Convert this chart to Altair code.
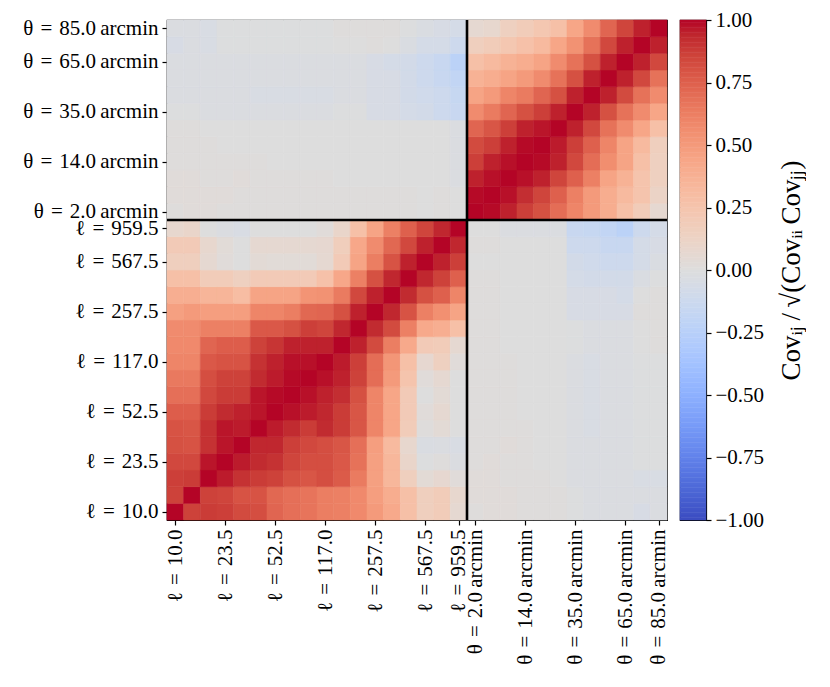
import json
import altair as alt
import pandas as pd

# ---------------- data ----------------
ell_tick_idx = [0, 3, 6, 9, 12, 15, 17]
ell_tick_lab = ["10.0", "23.5", "52.5", "117.0", "257.5", "567.5", "959.5"]
theta_tick_idx = [0, 3, 6, 9, 11]
theta_tick_lab = ["2.0", "14.0", "35.0", "65.0", "85.0"]
n_ell = 18
n_theta = 12

# ell-ell block, rows = ell_y index (bottom to top), cols = ell_x index
ll_rows = [
    [1.00, 0.86, 0.88, 0.87, 0.83, 0.82, 0.73, 0.69, 0.67, 0.63, 0.62, 0.58, 0.50, 0.42, 0.28, 0.16, 0.19, 0.06],
    [0.86, 1.00, 0.86, 0.85, 0.80, 0.80, 0.72, 0.69, 0.67, 0.63, 0.62, 0.58, 0.48, 0.40, 0.28, 0.16, 0.19, 0.08],
    [0.87, 0.88, 1.00, 0.96, 0.91, 0.88, 0.86, 0.81, 0.79, 0.82, 0.77, 0.64, 0.47, 0.34, 0.16, 0.04, 0.07, 0.02],
    [0.84, 0.84, 0.97, 1.00, 0.96, 0.93, 0.91, 0.85, 0.82, 0.82, 0.78, 0.68, 0.47, 0.34, 0.10, -0.01, 0.01, -0.02],
    [0.81, 0.80, 0.91, 0.97, 1.00, 0.94, 0.94, 0.87, 0.84, 0.82, 0.79, 0.69, 0.48, 0.32, 0.08, -0.03, -0.02, -0.04],
    [0.80, 0.79, 0.91, 0.97, 0.96, 1.00, 0.96, 0.93, 0.88, 0.93, 0.88, 0.79, 0.60, 0.44, 0.19, 0.01, 0.04, 0.00],
    [0.76, 0.76, 0.88, 0.93, 0.95, 0.97, 1.00, 0.98, 0.96, 0.94, 0.88, 0.79, 0.60, 0.44, 0.20, 0.02, 0.06, 0.00],
    [0.69, 0.69, 0.84, 0.88, 0.88, 0.97, 0.99, 1.00, 0.98, 0.95, 0.92, 0.81, 0.60, 0.44, 0.20, 0.00, 0.04, 0.00],
    [0.65, 0.65, 0.82, 0.86, 0.86, 0.93, 0.96, 0.99, 1.00, 0.98, 0.95, 0.86, 0.70, 0.50, 0.25, 0.02, 0.06, 0.00],
    [0.60, 0.60, 0.78, 0.80, 0.80, 0.91, 0.95, 0.98, 0.98, 1.00, 0.96, 0.87, 0.70, 0.52, 0.28, 0.07, 0.15, 0.02],
    [0.58, 0.58, 0.73, 0.76, 0.76, 0.86, 0.90, 0.95, 0.95, 0.95, 1.00, 0.95, 0.83, 0.63, 0.42, 0.20, 0.19, 0.06],
    [0.57, 0.57, 0.62, 0.62, 0.62, 0.78, 0.78, 0.81, 0.87, 0.85, 0.94, 1.00, 0.93, 0.83, 0.62, 0.42, 0.39, 0.28],
    [0.47, 0.50, 0.48, 0.48, 0.48, 0.60, 0.60, 0.63, 0.72, 0.73, 0.81, 0.95, 1.00, 0.94, 0.80, 0.62, 0.55, 0.45],
    [0.39, 0.39, 0.35, 0.35, 0.30, 0.45, 0.45, 0.45, 0.53, 0.54, 0.64, 0.84, 0.95, 1.00, 0.93, 0.81, 0.75, 0.60],
    [0.28, 0.28, 0.19, 0.19, 0.15, 0.20, 0.20, 0.20, 0.20, 0.27, 0.43, 0.62, 0.81, 0.94, 1.00, 0.94, 0.86, 0.75],
    [0.16, 0.16, 0.06, 0.02, 0.00, 0.04, 0.03, 0.03, 0.03, 0.06, 0.20, 0.45, 0.63, 0.80, 0.95, 1.00, 0.95, 0.87],
    [0.20, 0.20, 0.08, 0.03, 0.00, 0.06, 0.06, 0.06, 0.06, 0.07, 0.17, 0.43, 0.57, 0.72, 0.84, 0.95, 1.00, 0.94],
    [0.08, 0.10, 0.00, -0.02, -0.04, 0.00, 0.00, 0.00, 0.00, 0.02, 0.10, 0.28, 0.45, 0.62, 0.75, 0.85, 0.94, 1.00],
]

# theta-theta block, rows = theta_y index (bottom to top)
tt_rows = [
    [1.00, 0.99, 0.95, 0.87, 0.81, 0.70, 0.60, 0.50, 0.40, 0.28, 0.19, 0.06],
    [0.99, 1.00, 0.98, 0.92, 0.85, 0.75, 0.62, 0.50, 0.40, 0.32, 0.25, 0.12],
    [0.95, 0.98, 1.00, 0.98, 0.95, 0.85, 0.75, 0.62, 0.45, 0.37, 0.25, 0.15],
    [0.87, 0.95, 0.98, 1.00, 0.99, 0.95, 0.84, 0.70, 0.56, 0.45, 0.28, 0.15],
    [0.83, 0.87, 0.95, 0.99, 1.00, 0.96, 0.87, 0.75, 0.60, 0.45, 0.32, 0.16],
    [0.73, 0.79, 0.87, 0.95, 0.97, 1.00, 0.95, 0.84, 0.68, 0.57, 0.44, 0.28],
    [0.57, 0.64, 0.73, 0.81, 0.87, 0.95, 1.00, 0.95, 0.81, 0.68, 0.57, 0.44],
    [0.45, 0.50, 0.60, 0.64, 0.73, 0.81, 0.95, 1.00, 0.95, 0.83, 0.68, 0.57],
    [0.37, 0.40, 0.45, 0.50, 0.57, 0.68, 0.81, 0.95, 1.00, 0.95, 0.84, 0.68],
    [0.28, 0.32, 0.37, 0.40, 0.45, 0.57, 0.68, 0.81, 0.95, 1.00, 0.95, 0.84],
    [0.16, 0.19, 0.23, 0.27, 0.32, 0.44, 0.54, 0.68, 0.84, 0.95, 1.00, 0.95],
    [0.06, 0.08, 0.15, 0.19, 0.23, 0.28, 0.44, 0.57, 0.73, 0.85, 0.95, 1.00],
]

# ell-theta cross block, rows = ell index, cols = theta index
cross_rows = [
    [0.01, 0.02, 0.02, 0.01, 0.01, 0.01, -0.01, -0.02, -0.02, -0.02, -0.05, -0.02],
    [0.02, 0.02, 0.02, 0.01, 0.01, 0.01, -0.01, -0.02, -0.02, -0.02, -0.02, -0.02],
    [0.02, 0.02, 0.01, 0.01, 0.01, 0.00, -0.02, -0.02, -0.02, -0.02, -0.04, -0.04],
    [0.01, 0.02, 0.01, 0.01, 0.00, 0.00, -0.02, -0.02, -0.02, -0.02, -0.01, -0.01],
    [0.01, 0.01, 0.02, 0.01, 0.00, 0.00, -0.02, -0.02, -0.02, -0.02, -0.01, -0.01],
    [0.01, 0.01, 0.01, 0.01, 0.00, 0.00, -0.02, -0.04, -0.02, -0.02, -0.01, -0.01],
    [0.01, 0.01, 0.01, 0.00, 0.00, 0.00, -0.02, -0.04, -0.02, -0.02, -0.01, -0.01],
    [0.01, 0.01, 0.01, 0.00, 0.00, 0.00, -0.02, -0.04, -0.02, -0.02, -0.01, -0.01],
    [0.01, 0.01, 0.01, 0.00, 0.00, 0.00, -0.02, -0.04, -0.02, -0.02, -0.01, -0.01],
    [0.01, 0.01, 0.01, 0.00, 0.00, 0.00, -0.02, -0.04, -0.02, -0.02, -0.01, -0.01],
    [0.01, 0.01, 0.00, 0.00, 0.00, 0.00, -0.01, -0.02, -0.02, -0.02, 0.00, 0.01],
    [0.01, 0.01, 0.00, 0.00, 0.00, 0.00, -0.01, -0.02, -0.02, -0.02, 0.00, 0.01],
    [0.01, 0.01, 0.00, 0.00, 0.00, 0.00, -0.05, -0.05, -0.05, -0.05, 0.01, 0.01],
    [0.01, 0.01, 0.00, 0.00, 0.00, 0.00, -0.05, -0.05, -0.05, -0.07, 0.00, 0.01],
    [0.01, 0.01, 0.00, 0.00, 0.00, 0.00, -0.07, -0.08, -0.08, -0.08, -0.03, -0.01],
    [0.00, 0.00, 0.00, 0.00, 0.00, 0.00, -0.08, -0.10, -0.12, -0.12, -0.07, -0.03],
    [0.01, 0.01, 0.00, 0.00, 0.00, 0.00, -0.12, -0.12, -0.15, -0.15, -0.07, -0.05],
    [0.00, 0.00, -0.02, -0.02, -0.02, -0.02, -0.15, -0.16, -0.19, -0.23, -0.12, -0.07],
]

cbar_title = "Cov\u1d62\u2c7c\u2009/\u2009\u221a(Cov\u1d62\u1d62\u2009Cov\u2c7c\u2c7c)"
cbar_ticks = [-1, -0.75, -0.5, -0.25, 0, 0.25, 0.5, 0.75, 1]

# ---------------- build tables ----------------
N = n_ell + n_theta
records = []
for j in range(N):
    for i in range(N):
        if i < n_ell and j < n_ell:
            v = ll_rows[j][i]
        elif i >= n_ell and j >= n_ell:
            v = tt_rows[j - n_ell][i - n_ell]
        elif i < n_ell:
            v = cross_rows[i][j - n_ell]
        else:
            v = cross_rows[j][i - n_ell]
        records.append({"x0": i - 0.5, "x1": i + 0.5, "y0": j - 0.5, "y1": j + 0.5, "v": v, "vs": v})
df = pd.DataFrame(records)

# colour-bar strip (the colour scale itself, sampled in 200 steps)
n_steps = 200
cb = []
for k in range(n_steps):
    lo = -1 + 2.0 * k / n_steps
    hi = -1 + 2.0 * (k + 1) / n_steps
    cb.append({"lo": lo, "hi": hi, "v": (lo + hi) / 2, "vs": (lo + hi) / 2})
cb_df = pd.DataFrame(cb)

labels = [""] * N
tick_vals = []
for k, idx in enumerate(ell_tick_idx):
    labels[idx] = "\u2113\u2004=\u2004" + ell_tick_lab[k]
    tick_vals.append(idx)
for k, idx in enumerate(theta_tick_idx):
    labels[n_ell + idx] = "\u03b8\u2004=\u2004" + theta_tick_lab[k] + "\u2009arcmin"
    tick_vals.append(n_ell + idx)
label_expr = json.dumps(labels, ensure_ascii=False) + "[datum.value]"

sep_df = pd.DataFrame({"b": [n_ell - 0.5]})

# coolwarm colour map (Moreland)
cw = ["#3b4cc0", "#445acc", "#4d68d7", "#5775e1", "#6282ea", "#6c8ef1", "#779af7", "#82a5fb",
      "#8db0fe", "#98b9ff", "#a3c2ff", "#aec9fd", "#b8d0f9", "#c2d5f4", "#ccd9ee", "#d5dbe6",
      "#dddddd", "#e5d8d1", "#ecd3c5", "#f1ccb9", "#f5c4ad", "#f7bba0", "#f7b194", "#f7a687",
      "#f49a7b", "#f18d6f", "#ec7f63", "#e57058", "#de604d", "#d55042", "#cb3e38", "#c0282f",
      "#b40426"]
cw_dom = [-1 + k * 2.0 / (len(cw) - 1) for k in range(len(cw))]
cscale = alt.Scale(domain=cw_dom, range=cw, interpolate="rgb", clamp=True)
sscale = alt.Scale(domain=cw_dom, range=cw, interpolate="rgb", clamp=True)

FONT = "Liberation Serif"
FS = 21
pos_scale = alt.Scale(domain=[-0.5, N - 0.5], nice=False, zero=False)

common_axis = dict(labelFont=FONT, labelFontSize=FS, labelColor="black", tickColor="black",
                   tickSize=5, tickWidth=1.2, domainColor="black", domainWidth=1.2, grid=False,
                   labelOverlap=False, labelPadding=4, labelFlush=False)

xaxis = alt.Axis(values=tick_vals, labelExpr=label_expr, labelAngle=270, labelAlign="right",
                 labelBaseline="middle", title=None, **common_axis)
yaxis = alt.Axis(values=tick_vals, labelExpr=label_expr, title=None, minExtent=158, **common_axis)

heat = alt.Chart(df).mark_rect(strokeWidth=0.6).encode(
    x=alt.X("x0:Q", scale=pos_scale, axis=xaxis),
    x2="x1:Q",
    y=alt.Y("y0:Q", scale=pos_scale, axis=yaxis),
    y2="y1:Q",
    color=alt.Color("v:Q", scale=cscale, legend=None),
    stroke=alt.Stroke("vs:Q", scale=sscale, legend=None),
)

vrule = alt.Chart(sep_df).mark_rule(color="black", strokeWidth=2.6).encode(x=alt.X("b:Q", title=None))
hrule = alt.Chart(sep_df).mark_rule(color="black", strokeWidth=2.6).encode(y=alt.Y("b:Q", title=None))

main = alt.layer(heat, vrule, hrule).properties(width=500, height=500)

cbar_axis = alt.Axis(orient="right", values=cbar_ticks,
                     labelExpr="replace(format(datum.value, '.2f'), '-', '\u2212')",
                     title=cbar_title, titleFont=FONT, titleFontSize=27, titleFontWeight="normal",
                     titleColor="black", titleAngle=270, titleBaseline="top", titlePadding=15,
                     **common_axis)

cbar = alt.Chart(cb_df).mark_rect(strokeWidth=0.5).encode(
    x=alt.value(0), x2=alt.value(26),
    y=alt.Y("lo:Q", scale=alt.Scale(domain=[-1, 1], nice=False, zero=False), axis=cbar_axis),
    y2="hi:Q",
    color=alt.Color("v:Q", scale=cscale, legend=None),
    stroke=alt.Stroke("vs:Q", scale=sscale, legend=None),
).properties(width=26, height=500)

chart = alt.hconcat(main, cbar, spacing=9).properties(
    padding={"top": 0, "left": 0, "right": 0, "bottom": 0},
    background="white",
).configure_view(stroke="black", strokeWidth=1.2)

chart.save("out.html", embed_options={"renderer": "svg", "actions": False})
